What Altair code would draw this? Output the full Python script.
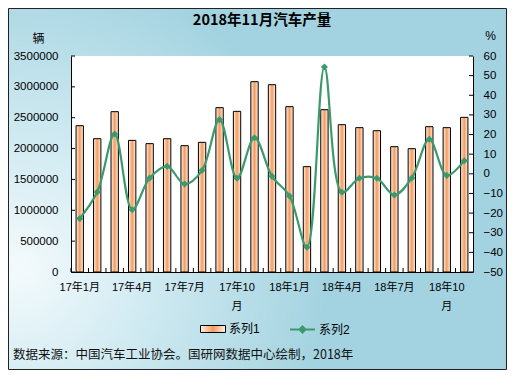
import altair as alt
import pandas as pd

months = ["17年1月", "17年2月", "17年3月", "17年4月", "17年5月", "17年6月",
          "17年7月", "17年8月", "17年9月", "17年10月", "17年11月", "17年12月",
          "18年1月", "18年2月", "18年3月", "18年4月", "18年5月", "18年6月",
          "18年7月", "18年8月", "18年9月", "18年10月", "18年11月"]
production = [2371000, 2160000, 2598000, 2133000, 2080000, 2160000, 2047000,
              2101000, 2663000, 2603000, 3084000, 3035000, 2679000, 1707000,
              2630000, 2387000, 2339000, 2290000, 2031000, 1998000, 2355000,
              2339000, 2506000]
growth = [-22.8, -9.3, 20.3, -18.3, -2.1, 3.8, -5.2, 1.8, 27.6, -2.3, 18.4,
          -1.3, -11.3, -37.4, 54.4, -9.4, -2.3, -2.3, -10.8, -2.1, 17.6, -0.8, 6.7]
left_ticks = [0, 500000, 1000000, 1500000, 2000000, 2500000, 3000000, 3500000]
right_ticks = [-50, -40, -30, -20, -10, 0, 10, 20, 30, 40, 50, 60]
shown_months = ["17年1月", "17年4月", "17年7月", "17年10月",
                "18年1月", "18年4月", "18年7月", "18年10月"]
series_names = ["系列1", "系列2"]
title_text = "2018年11月汽车产量"
left_unit = "辆"
right_unit = "%"
footer_text = "数据来源：中国汽车工业协会。国研网数据中心绘制，2018年"

W, H = 402, 216
FONT = "Liberation Sans, Noto Sans CJK SC"

df = pd.DataFrame({"month": months, "production": production, "growth": growth,
                   "s1": series_names[0], "s2": series_names[1]})
lt = pd.DataFrame({"production": left_ticks})
rt = pd.DataFrame({"growth": right_ticks})
one = pd.DataFrame({"k": [0]})

x_scale = alt.Scale(paddingInner=0, paddingOuter=0)
x_axis = alt.Axis(values=shown_months, labelAngle=0, ticks=False, grid=False,
                  domainColor="black", labelColor="black", labelFontSize=11,
                  labelPadding=9, labelLineHeight=19, labelFont=FONT,
                  labelExpr="datum.value == '17年10月' ? ['17年10', '月'] : datum.value == '18年10月' ? ['18年10', '月'] : datum.value",
                  title=None, zindex=1)
X = dict(field="month", type="nominal", sort=months, scale=x_scale, axis=x_axis)

left_scale = alt.Scale(domain=[0, 3500000], nice=False, zero=True)
left_axis = alt.Axis(values=left_ticks, format="d", ticks=False, grid=False,
                     domainColor="black", labelColor="black", labelFontSize=11.5,
                     labelPadding=13, labelFont=FONT,
                     title=left_unit, titleAngle=0, titleX=-33, titleY=-18,
                     titleFontSize=12, titleFontWeight="normal", titleColor="black",
                     titleAlign="center", titleBaseline="middle", titleFont=FONT,
                     zindex=1)
right_scale = alt.Scale(domain=[-50, 60], nice=False, zero=False)
right_axis = alt.Axis(orient="right", values=right_ticks, format="d", ticks=False,
                      grid=False, domainColor="black", labelColor="black",
                      labelFontSize=11.5, labelPadding=10, labelFont=FONT,
                      title=right_unit, titleAngle=0, titleX=17, titleY=-21,
                      titleFontSize=12, titleFontWeight="normal", titleColor="black",
                      titleAlign="center", titleBaseline="middle", titleFont=FONT,
                      zindex=1)

bg = alt.Chart(one).mark_rect(
    fill=alt.Gradient(gradient="radial", x1=0.02, y1=0.66, r1=0, x2=0.02, y2=0.66, r2=0.62,
                      stops=[alt.GradientStop(color="#f4fafc", offset=0),
                             alt.GradientStop(color="#d2ebf2", offset=0.4),
                             alt.GradientStop(color="#a3d3e0", offset=1)]),
    stroke="#222222", strokeWidth=1
).encode(x=alt.value(-62.5), x2=alt.value(435.5), y=alt.value(-47.5), y2=alt.value(313.5))

plot_bg = alt.Chart(one).mark_rect(fill="white").encode(
    x=alt.value(0), x2=alt.value(W), y=alt.value(0), y2=alt.value(H))

bar_legend = alt.Legend(orient="none", legendX=129, legendY=260, title=None,
                        symbolType="M-1,-0.28H1V0.28H-1Z", symbolSize=625,
                        symbolFillColor="#f6b88a", symbolStrokeColor="black",
                        symbolStrokeWidth=1, labelFontSize=12, labelOffset=3,
                        labelFont=FONT, labelColor="black", padding=0, zindex=1)
line_legend = alt.Legend(orient="none", legendX=218, legendY=260, title=None,
                         symbolType="M-1,0H1M-0.24,0L0,-0.24L0.24,0L0,0.24Z",
                         symbolSize=625, symbolStrokeWidth=2,
                         symbolFillColor="#3b9a6b",
                         labelFontSize=12, labelOffset=3, labelFont=FONT,
                         labelColor="black", padding=0, zindex=1)

bars = alt.Chart(df).mark_bar(
    width=alt.RelativeBandSize(0.42),
    fill=alt.Gradient(gradient="linear", x1=0, y1=0, x2=1, y2=0,
                      stops=[alt.GradientStop(color="#fff1e8", offset=0),
                             alt.GradientStop(color="#f39c5e", offset=0.5),
                             alt.GradientStop(color="#fff1e8", offset=1)]),
    strokeWidth=1
).encode(
    x=alt.X(**X),
    y=alt.Y("production:Q", scale=left_scale, axis=left_axis),
    stroke=alt.Stroke("s1:N", scale=alt.Scale(domain=[series_names[0]], range=["black"]),
                      legend=bar_legend),
)
left_tick_marks = alt.Chart(lt).mark_rule(color="black", strokeWidth=1).encode(
    y=alt.Y("production:Q", scale=left_scale, axis=left_axis),
    x=alt.value(0), x2=alt.value(4))
left_group = alt.layer(bars, left_tick_marks)

color_enc = alt.Color("s2:N", scale=alt.Scale(domain=[series_names[1]], range=["#3b9a6b"]),
                      legend=line_legend)
line = alt.Chart(df).mark_line(interpolate="catmull-rom", strokeWidth=2.2).encode(
    x=alt.X(**X),
    y=alt.Y("growth:Q", scale=right_scale, axis=right_axis),
    color=color_enc)
points = alt.Chart(df).mark_point(shape="diamond", filled=True, size=50, opacity=1).encode(
    x=alt.X(**X),
    y=alt.Y("growth:Q", scale=right_scale, axis=right_axis),
    color=color_enc)
right_tick_marks = alt.Chart(rt).mark_rule(color="black", strokeWidth=1).encode(
    y=alt.Y("growth:Q", scale=right_scale, axis=right_axis),
    x=alt.value(W - 4), x2=alt.value(W))
right_group = alt.layer(line, points, right_tick_marks)

x_ticks = alt.Chart(df).mark_rule(color="black", strokeWidth=1).encode(
    x=alt.X(**X, bandPosition=0),
    y=alt.value(H), y2=alt.value(H - 4))

footer = alt.Chart(one).mark_text(align="left", baseline="middle", font="Noto Sans CJK SC",
                                  fontSize=12.5, color="#111111").encode(
    x=alt.value(-58), y=alt.value(299), text=alt.value(footer_text))

chart = alt.layer(bg, plot_bg, left_group, right_group, x_ticks, footer).resolve_scale(
    y="independent", color="independent", stroke="independent"
).properties(
    width=W, height=H,
    autosize=alt.AutoSizeParams(type="none"),
    padding={"left": 63, "top": 48, "right": 34, "bottom": 98},
    title=alt.TitleParams(title_text, font="Noto Sans CJK SC", fontSize=14.5,
                          fontWeight="bold", color="black", anchor="middle",
                          dx=-10, dy=24, offset=4),
).configure_view(stroke=None)

chart.save("out.html", embed_options={"renderer": "svg", "actions": False})
